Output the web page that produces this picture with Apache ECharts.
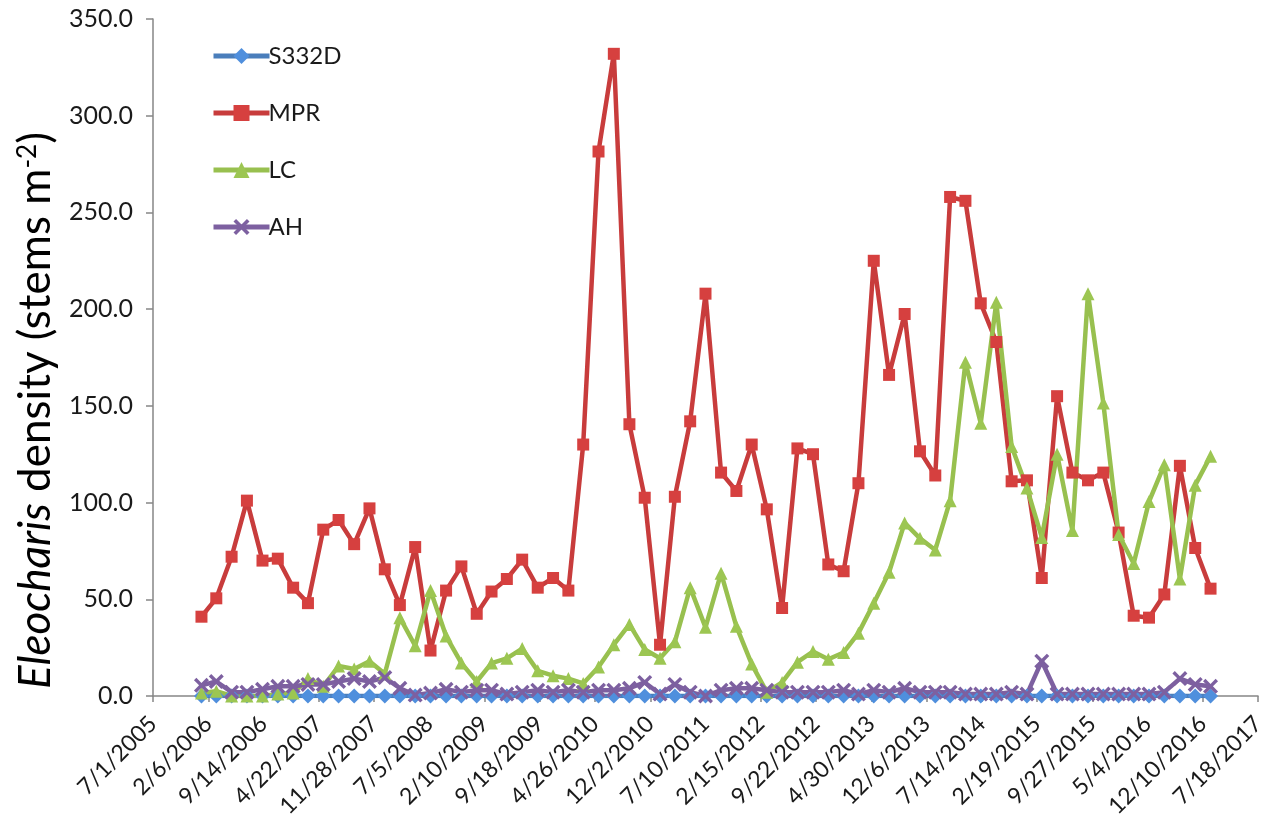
<!DOCTYPE html>
<html>
<head>
<meta charset="utf-8">
<script src="https://cdn.jsdelivr.net/npm/echarts@6/dist/echarts.min.js"></script>
<style>
  html, body { margin: 0; padding: 0; background: #ffffff; }
  #chart { width: 1270px; height: 831px; }
</style>
</head>
<body>
<div id="chart"></div>
<script>
// Bimonthly sampling dates, Jan 2006 - Jan 2017
const sampleDates = [
  '2006-01-10','2006-03-10','2006-05-10','2006-07-10','2006-09-10','2006-11-10',
  '2007-01-10','2007-03-10','2007-05-10','2007-07-10','2007-09-10','2007-11-10',
  '2008-01-10','2008-03-10','2008-05-10','2008-07-10','2008-09-10','2008-11-10',
  '2009-01-10','2009-03-10','2009-05-10','2009-07-10','2009-09-10','2009-11-10',
  '2010-01-10','2010-03-10','2010-05-10','2010-07-10','2010-09-10','2010-11-10',
  '2011-01-10','2011-03-10','2011-05-10','2011-07-10','2011-09-10','2011-11-10',
  '2012-01-10','2012-03-10','2012-05-10','2012-07-10','2012-09-10','2012-11-10',
  '2013-01-10','2013-03-10','2013-05-10','2013-07-10','2013-09-10','2013-11-10',
  '2014-01-10','2014-03-10','2014-05-10','2014-07-10','2014-09-10','2014-11-10',
  '2015-01-10','2015-03-10','2015-05-10','2015-07-10','2015-09-10','2015-11-10',
  '2016-01-10','2016-03-10','2016-05-10','2016-07-10','2016-09-10','2016-11-10',
  '2017-01-10'
];

// Stem density (stems m^-2) per site
const s332d = [
  0,0,0,0,0,0, 0,0,0,0,0,0, 0,0,0,0,0,0, 0,0,0,0,0,0,
  0,0,0,0,0,0, 0,0,0,0,0,0, 0,0,0,0,0,0, 0,0,0,0,0,0,
  0,0,0,0,0,0, 0,0,0,0,0,0, 0,0,0,0,0,0, 0
];
const mpr = [
  41, 50.5, 72, 101, 70, 71,
  56, 48, 86, 91, 78.5, 97,
  65.5, 47, 77, 23.5, 54.5, 67,
  42.5, 54, 60.5, 70.5, 56, 61,
  54.5, 130, 281.5, 332, 140.5, 102.5,
  26.5, 103, 142, 208, 115.5, 106,
  130, 96.5, 45.5, 128, 125, 68,
  64.5, 110, 225, 166, 197.5, 126.5,
  114, 258, 256, 203, 183, 111,
  111.5, 61, 155, 115.5, 111.5, 115.5,
  84.5, 41.5, 40.5, 52.5, 119, 76.5,
  55.5
];
const lc = [
  1.5, 2.5, 0, 0, 0, 1,
  1.5, 9, 5, 15.5, 14, 18,
  11.5, 40.5, 26, 54.5, 31, 17,
  7.5, 17, 19.5, 24.5, 13, 10.5,
  9, 6.5, 15, 26.5, 37, 24,
  19.5, 28, 56, 35.5, 63.5, 36,
  16.5, 2, 7, 17.5, 23, 19,
  22.5, 32.5, 48, 64, 89.5, 81.5,
  75.5, 101, 172.5, 141, 203.5, 129,
  107.5, 82, 125, 85.5, 208, 151.5,
  83.5, 68.5, 100.5, 119.5, 60.5, 109,
  124
];
const ah = [
  5.5, 7.5, 2, 2, 3.5, 5,
  5, 6, 6, 7.5, 9, 7.5,
  9.5, 4, 0.5, 1.5, 3.5, 2,
  3, 3, 1, 2, 3, 2,
  3, 2, 3, 3, 4, 7,
  1, 6, 2, 0, 3, 4,
  4, 3, 2, 2, 2, 2,
  3, 1, 3, 2, 4, 2,
  2, 2, 1, 1, 1, 2,
  1, 18, 1, 1, 1, 1,
  1, 1, 1, 2, 9, 6,
  5
];

const seriesNames = ['S332D', 'MPR', 'LC', 'AH'];
const yTicks = { min: 0, max: 350, step: 50 };

// x axis is measured in days since 7/1/2005, ticks every 220 days
const ORIGIN = Date.UTC(2005, 6, 1);
const DAY = 86400000;
const X_STEP = 220;
const X_MAX = 4400;

function dayOffset(iso) {
  const p = iso.split('-').map(Number);
  return Math.round((Date.UTC(p[0], p[1] - 1, p[2]) - ORIGIN) / DAY);
}
function dayLabel(v) {
  const d = new Date(ORIGIN + v * DAY);
  return (d.getUTCMonth() + 1) + '/' + d.getUTCDate() + '/' + d.getUTCFullYear();
}
function pairs(values) {
  return sampleDates.map((s, i) => [dayOffset(s), values[i]]);
}

const FONT = 'Lato';
const crossPath = 'path://M0,1.6 L1.6,0 L5,3.4 L8.4,0 L10,1.6 L6.6,5 L10,8.4 L8.4,10 L5,6.6 L1.6,10 L0,8.4 L3.4,5 Z';

const chart = echarts.init(document.getElementById('chart'), null, { renderer: 'canvas' });

chart.setOption({
  backgroundColor: '#ffffff',
  animation: false,
  grid: { left: 153, right: 12, top: 19, bottom: 135, containLabel: false },
  legend: {
    orient: 'vertical',
    left: 206,
    top: 36,
    itemWidth: 56,
    itemHeight: 20,
    itemGap: 27,
    data: seriesNames,
    lineStyle: { width: 5 },
    textStyle: { fontFamily: FONT, fontSize: 24, color: '#1a1a1a', lineHeight: 30, padding: [0, 0, 0, -6] }
  },
  xAxis: {
    type: 'value',
    min: 0,
    max: X_MAX,
    interval: X_STEP,
    splitLine: { show: false },
    axisLine: { show: true, lineStyle: { color: '#868686', width: 1.5 } },
    axisTick: { show: true, inside: false, length: 6, lineStyle: { color: '#868686', width: 1.5 } },
    axisLabel: {
      rotate: 45,
      margin: 24,
      fontFamily: FONT,
      fontSize: 23,
      color: '#1a1a1a',
      showMinLabel: true,
      showMaxLabel: true,
      formatter: dayLabel
    }
  },
  yAxis: {
    type: 'value',
    min: yTicks.min,
    max: yTicks.max,
    interval: yTicks.step,
    splitLine: { show: false },
    axisLine: { show: true, lineStyle: { color: '#868686', width: 1.5 } },
    axisTick: { show: true, inside: false, length: 7, lineStyle: { color: '#868686', width: 1.5 } },
    axisLabel: {
      margin: 20,
      fontFamily: FONT,
      fontSize: 25,
      color: '#1a1a1a',
      formatter: v => v.toFixed(1)
    },
    name: '{it|Eleocharis} density (stems m{sup|-2})',
    nameLocation: 'middle',
    nameRotate: 90,
    nameGap: 91,
    nameTextStyle: {
      fontFamily: FONT,
      fontSize: 44,
      color: '#000000',
      padding: [0, 106, 0, 0],
      rich: {
        it: { fontFamily: FONT, fontSize: 44, fontStyle: 'italic', color: '#000000' },
        sup: { fontFamily: FONT, fontSize: 26, color: '#000000', verticalAlign: 'top', padding: [0, 0, 18, 0] }
      }
    }
  },
  series: [
    {
      name: seriesNames[0], type: 'line', data: pairs(s332d),
      symbol: 'diamond', symbolSize: 15,
      lineStyle: { color: '#4a7ebb', width: 4.5 },
      itemStyle: { color: '#4f8fdd' }
    },
    {
      name: seriesNames[1], type: 'line', data: pairs(mpr),
      symbol: 'rect', symbolSize: 12,
      lineStyle: { color: '#c83c3c', width: 4.5 },
      itemStyle: { color: '#d6403f' }
    },
    {
      name: seriesNames[2], type: 'line', data: pairs(lc),
      symbol: 'triangle', symbolSize: 13,
      lineStyle: { color: '#98c04f', width: 4.5 },
      itemStyle: { color: '#9cc652' }
    },
    {
      name: seriesNames[3], type: 'line', data: pairs(ah),
      symbol: crossPath, symbolSize: 15,
      lineStyle: { color: '#7d60a0', width: 4.5 },
      itemStyle: { color: '#7d60a0' }
    }
  ]
});
</script>
</body>
</html>
